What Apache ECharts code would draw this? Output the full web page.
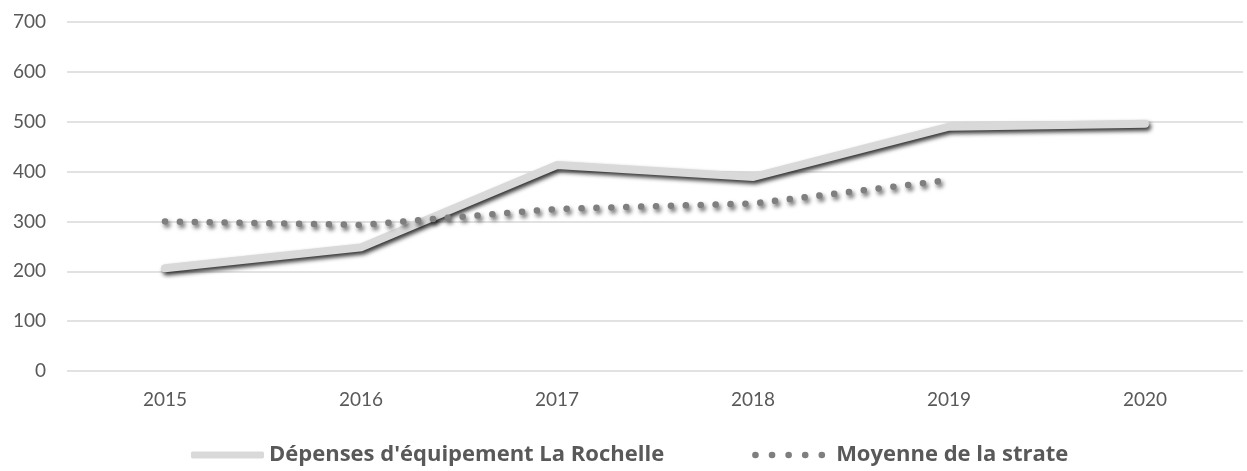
<!DOCTYPE html>
<html>
<head>
<meta charset="utf-8">
<script src="https://cdn.jsdelivr.net/npm/echarts@6/dist/echarts.min.js"></script>
<style>
  html, body { margin: 0; padding: 0; background: #fff; }
  #chart { width: 1247px; height: 471px; }
</style>
</head>
<body>
<div id="chart"></div>
<script>
const years = ["2015", "2016", "2017", "2018", "2019", "2020"];
const depensesLaRochelle = [206, 248, 413, 389, 490, 496];
const moyenneStrate = [300, 293, 325, 336, 383, null];
const yTicks = [0, 100, 200, 300, 400, 500, 600, 700];

const font = "Lato, 'Open Sans', sans-serif";
// five round dots for the dotted-series legend key
const dotsIcon =
  "path://M0,3a3,3 0 1,0 6,0a3,3 0 1,0 -6,0" +
  "M15,3a3,3 0 1,0 6,0a3,3 0 1,0 -6,0" +
  "M30,3a3,3 0 1,0 6,0a3,3 0 1,0 -6,0" +
  "M45,3a3,3 0 1,0 6,0a3,3 0 1,0 -6,0" +
  "M60,3a3,3 0 1,0 6,0a3,3 0 1,0 -6,0";

const myChart = echarts.init(document.getElementById("chart"));
myChart.setOption({
  animation: false,
  grid: { left: 67, right: 4, top: 22, bottom: 100 },
  xAxis: {
    type: "category",
    data: years,
    axisLine: { show: false },
    axisTick: { show: false },
    axisLabel: { color: "#595959", fontSize: 19, fontFamily: font, margin: 19 },
  },
  yAxis: {
    type: "value",
    min: yTicks[0],
    max: yTicks[yTicks.length - 1],
    interval: 100,
    axisLabel: { color: "#595959", fontSize: 19, fontFamily: font, margin: 21 },
    splitLine: { lineStyle: { color: "#d9d9d9", width: 1.5 } },
  },
  legend: {
    top: 439,
    left: 186,
    itemGap: 88,
    textStyle: {
      color: "#595959",
      fontSize: 22,
      fontWeight: "bold",
      fontFamily: "'Open Sans', sans-serif",
    },
    data: [
      {
        name: "Dépenses d'équipement La Rochelle",
        icon: "roundRect",
        itemWidth: 73,
        itemHeight: 7,
        itemStyle: { color: "#d9d9d9" },
      },
      {
        name: "Moyenne de la strate",
        icon: dotsIcon,
        itemWidth: 67,
        itemHeight: 6,
        itemStyle: { color: "#7f7f7f" },
        textStyle: { padding: [0, 0, 0, 6] },
      },
    ],
    itemWidth: 73,
    itemHeight: 7,
  },
  series: [
    {
      name: "Dépenses d'équipement La Rochelle",
      type: "line",
      data: depensesLaRochelle,
      showSymbol: false,
      lineStyle: {
        color: "#d9d9d9",
        width: 8,
        cap: "round",
        join: "miter",
        shadowColor: "rgba(0,0,0,0.8)",
        shadowBlur: 4,
        shadowOffsetX: 2,
        shadowOffsetY: 3,
      },
      itemStyle: { color: "#d9d9d9" },
    },
    {
      name: "Moyenne de la strate",
      type: "line",
      data: moyenneStrate,
      showSymbol: false,
      lineStyle: {
        color: "#7f7f7f",
        width: 6.5,
        type: [0.1, 14.8],
        cap: "round",
        shadowColor: "rgba(0,0,0,0.6)",
        shadowBlur: 4,
        shadowOffsetX: 2,
        shadowOffsetY: 3,
      },
      itemStyle: { color: "#7f7f7f" },
    },
  ],
});
</script>
</body>
</html>
